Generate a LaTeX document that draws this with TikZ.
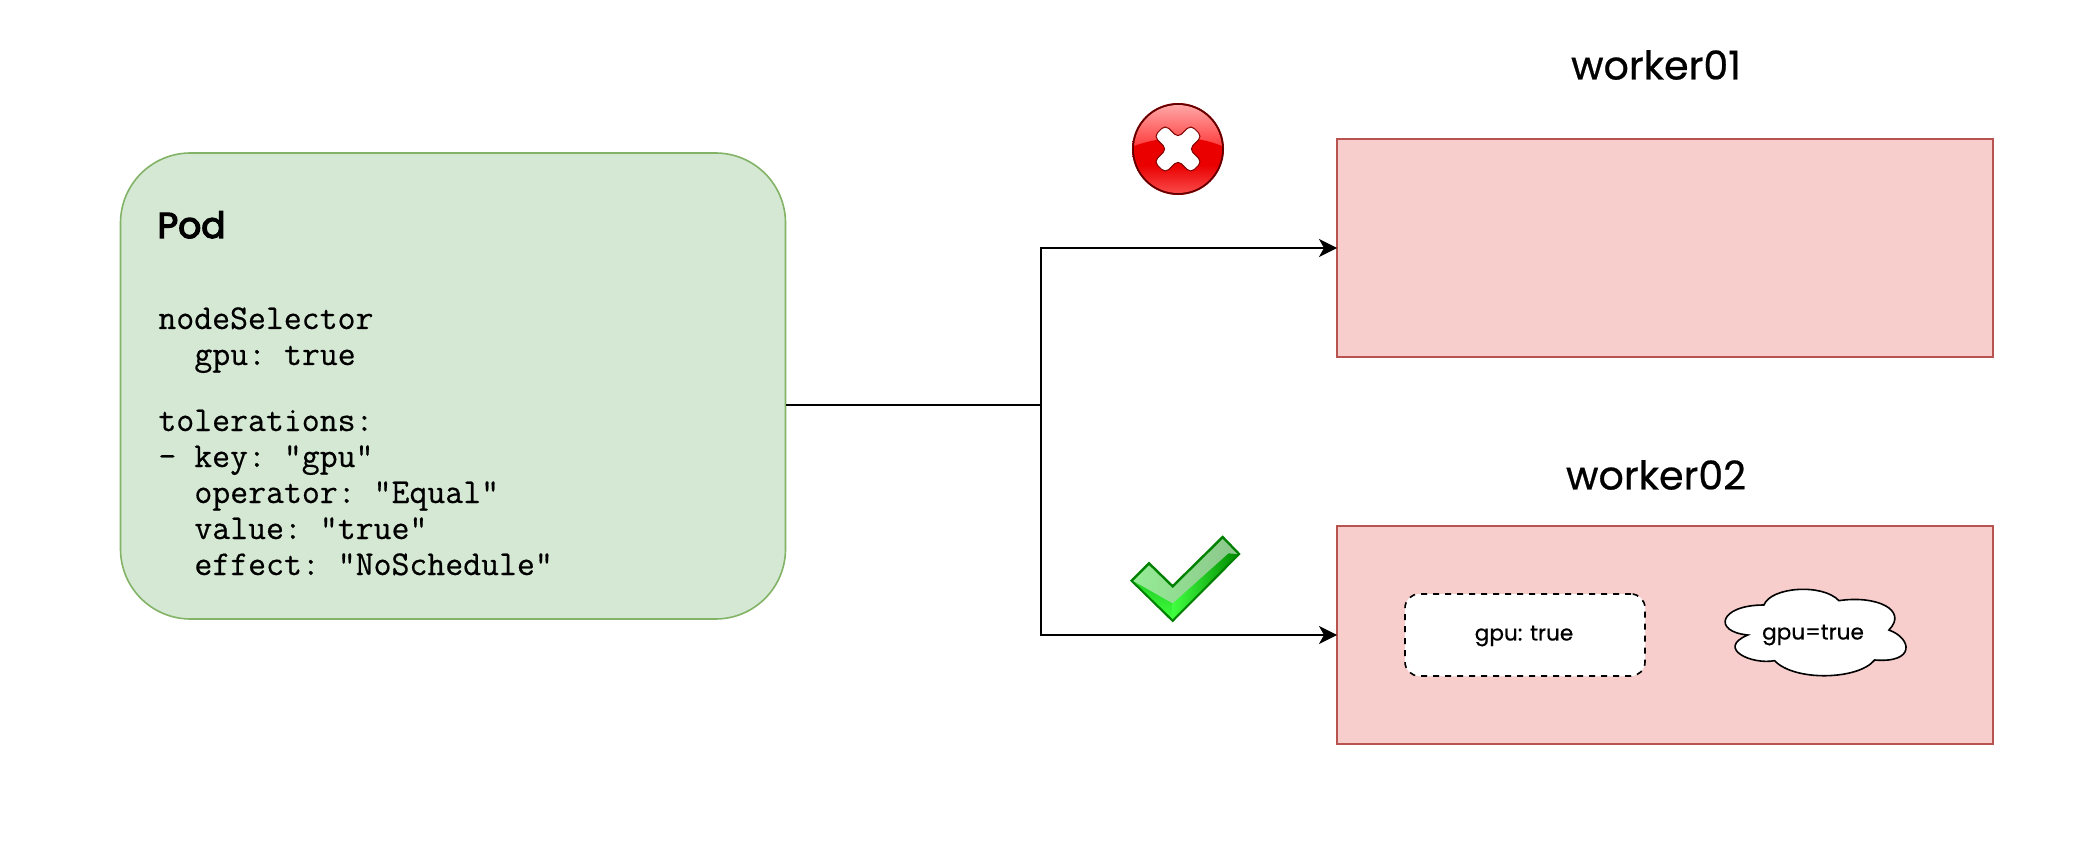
\documentclass[tikz,border=0pt]{standalone}
\usepackage{fontspec}
\setmonofont[FakeBold=0.5]{Latin Modern Mono}
\newfontfamily\comic[FakeBold=0.6]{Poppins}
\newfontfamily\comicb[FakeBold=3.5]{Poppins}
\usetikzlibrary{arrows.meta}
\definecolor{podfill}{HTML}{D5E8D4}
\definecolor{podline}{HTML}{82B366}
\definecolor{wfill}{HTML}{F8CECC}
\definecolor{wline}{HTML}{B85450}
\tikzset{
  podbox/.style={draw=podline,fill=podfill,line width=0.8pt,rounded corners=35pt,minimum width=332.5pt,minimum height=233pt,inner sep=0pt,outer sep=0pt},
  workerbox/.style={draw=wline,fill=wfill,line width=0.8pt,minimum width=328pt,minimum height=109pt,inner sep=0pt,outer sep=0pt},
  title/.style={font=\comic\fontsize{19.8}{24}\selectfont,inner sep=0pt},
  small/.style={font=\comic\fontsize{10.8}{13}\selectfont,inner sep=0pt},
  code/.style={font=\ttfamily\fontsize{17.4}{20}\selectfont,anchor=base west,inner sep=0pt},
  conn/.style={line width=1pt,black},
  arrowconn/.style={conn,-{Stealth[length=9pt,width=9pt,inset=2.5pt]}},
}
\begin{document}
\begin{tikzpicture}[x=0.5pt,y=-0.5pt]
\useasboundingbox (0,0) rectangle (2088,844);
\fill[white] (0,0) rectangle (2088,844);
% boxes
\node[podbox] (pod) at (453,386) {};
\node[workerbox] (w1) at (1665,248) {};
\node[workerbox] (w2) at (1665,635) {};
% titles
\node[title] (t1) at (1656,65) {worker01};
\node[title] (t2) at (1656,475) {worker02};
% pod text
\node[font=\comicb\fontsize{18}{22}\selectfont,anchor=base west,inner sep=0pt] (podt) at (157,238) {Pod};
\node[code] (c1) at (158,329) {nodeSelector};
\node[code] (c2) at (194,365) {gpu: true};
\node[code] (c3) at (158,431) {tolerations:};
\node[code] (c4) at (158,467) {- key: "gpu"};
\node[code] (c5) at (194,503) {operator: "Equal"};
\node[code] (c6) at (194,539) {value: "true"};
\node[code] (c7) at (194,575) {effect: "NoSchedule"};
% connectors
\coordinate (j) at (1041,405);
\draw[conn] (pod.east |- j) -- (j);
\draw[arrowconn] (j) -- (j |- w1.west) -- (w1.west);
\draw[arrowconn] (j) -- (j |- w2.west) -- (w2.west);
% label box and cloud
\node[draw=black,dashed,fill=white,line width=0.8pt,rounded corners=7pt,minimum width=120pt,minimum height=41pt,inner sep=0pt,outer sep=0pt] (lab) at (1525,635) {};
\node[small] (labt) at (1524,636) {gpu: true};
\begin{scope}[shift={(1380,570)},xscale=1/2.8,yscale=1/3]
\draw[fill=white,line width=0.8pt] (1075,105)
  .. controls (1095,50) and (1240,40) .. (1285,92)
  .. controls (1390,75) and (1480,120) .. (1425,180)
  .. controls (1490,205) and (1500,280) .. (1385,270)
  .. controls (1340,330) and (1160,335) .. (1105,272)
  .. controls (1040,285) and (940,235) .. (1030,195)
  .. controls (930,185) and (950,105) .. (1075,105) -- cycle;
\end{scope}
\node[small] (cloudt) at (1813,635) {gpu=true};
% red cross icon
\shade[inner color=red!90!white,outer color=red!70!black] (1178,149) circle[radius=46];
\begin{scope}
\clip (1178,149) circle[radius=44];
\shade[top color=red!35!white,bottom color=red!80!white] (1134,105) rectangle (1222,150);
\fill[red!92!black] (1134,146) .. controls (1165,135) and (1195,135) .. (1222,146) -- (1222,196) -- (1134,196) -- cycle;
\shade[top color=red!92!black,bottom color=red!60!white,opacity=.8] (1134,165) rectangle (1222,196);
\end{scope}
\draw[draw=red!30!black,line width=0.8pt,opacity=.8] (1178,149) circle[radius=45];
\begin{scope}[shift={(1178,149)},rotate=45]
\fill[white,draw=red!50!black,line width=0.5pt,rounded corners=2.5pt]
  (-8,-8) -- (-8,-26) -- (8,-26) -- (8,-8) -- (26,-8) -- (26,8) -- (8,8) -- (8,26) -- (-8,26) -- (-8,8) -- (-26,8) -- (-26,-8) -- cycle;
\end{scope}
% green check icon
\begin{scope}[shift={(1080,510)},scale=1/3]
\fill[green!50!black] (150,212) -- (207,155) -- (278,224) -- (428,76) -- (482,132) -- (278,337) -- cycle;
\shade[top color=green!60!black,bottom color=green!75!white]
  (160,213) -- (207,166) -- (278,235) -- (428,87) -- (472,132) -- (278,327) -- cycle;
\shade[left color=green!75!white,right color=green!55!black]
  (278,280) -- (445,130) -- (472,132) -- (278,327) -- cycle;
\shade[left color=green!40!white!85!gray,right color=green!50!black!45!white]
  (160,213) -- (207,166) -- (278,235) -- (428,87) -- (472,132) -- (445,130) -- (278,280) -- cycle;
\end{scope}
\end{tikzpicture}
\end{document}
